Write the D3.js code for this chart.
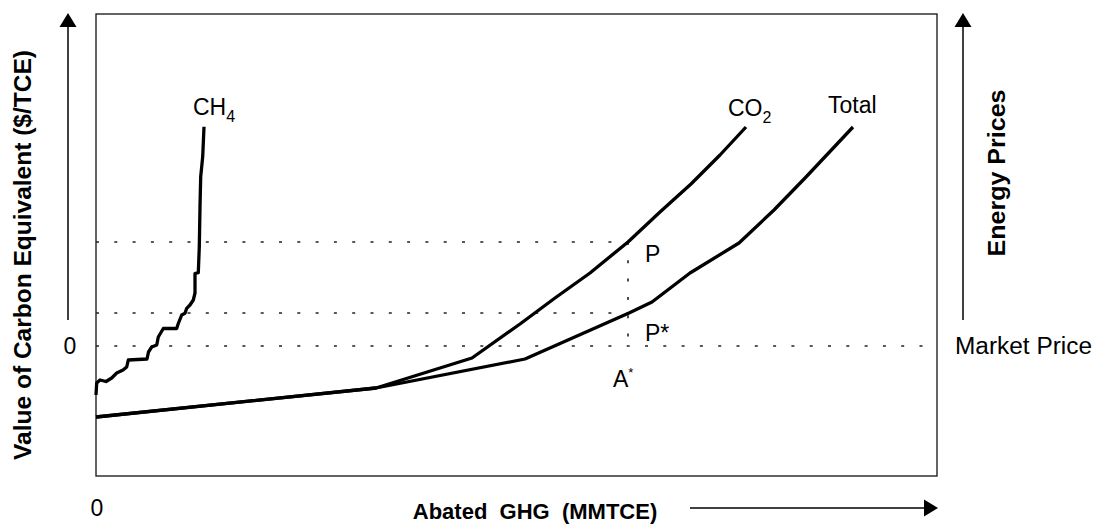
<!DOCTYPE html>
<html>
<head>
<meta charset="utf-8">
<script src="https://cdn.jsdelivr.net/npm/d3@7"></script>
<style>
  html, body { margin: 0; padding: 0; background: #fff; }
  svg { display: block; font-family: "Liberation Sans", Arial, sans-serif; }
</style>
</head>
<body>
<svg id="chart" width="1097" height="525"></svg>
<script>
// ---- data (abstract units) ----
const ch4X = [0, 0.07, 0.4, 1.0, 1.57, 2.07, 2.7, 3.07, 3.23, 5.1, 5.25, 5.57, 6.07, 6.23, 6.73, 8.07, 8.23, 8.57, 8.9, 9.07, 9.4, 9.73, 9.9, 9.9, 10.23, 10.33, 10.4, 10.47, 10.67, 10.8];
const ch4Y = [-4.9, -3.7, -3.4, -3.55, -3.2, -2.7, -2.4, -2.1, -1.4, -1.3, -0.6, -0.1, 0.1, 0.9, 1.75, 1.75, 2.25, 3.1, 3.27, 3.77, 4.1, 4.6, 5.3, 7.25, 7.33, 9.93, 13.93, 16.93, 18.93, 21.93];
const co2X = [0, 28, 37.6, 42.4, 45.9, 49.4, 53.2, 56.4, 59.5, 62.4, 65];
const co2Y = [-7.1, -4.2, -1.2, 2.2, 4.8, 7.3, 10.4, 13.4, 16.2, 19.1, 21.9];
const totalX = [0, 28, 42.9, 53.3, 55.6, 59.4, 64.3, 67.8, 71, 75.7];
const totalY = [-7.1, -4.2, -1.3, 3.3, 4.4, 7.3, 10.3, 13.6, 16.9, 21.9];
const priceP = 10.4;      // P
const pricePStar = 3.3;   // P*
const marketPrice = 0;    // Market Price
const abatedAStar = 53.2; // A*
const xDomain = [0, 84.1];
const yDomain = [-13, 33.2];

// ---- layout ----
const box = { left: 96, right: 937, top: 14, bottom: 476 };
const svg = d3.select("#chart");
const x = d3.scaleLinear().domain(xDomain).range([box.left, box.right]);
const y = d3.scaleLinear().domain(yDomain).range([box.bottom, box.top]);

// frame
svg.append("rect")
  .attr("x", box.left).attr("y", box.top)
  .attr("width", box.right - box.left).attr("height", box.bottom - box.top)
  .attr("fill", "none").attr("stroke", "#111").attr("stroke-width", 1.3);

// dotted reference lines
const dash = "3,15.3";
function hdot(v, x1) {
  svg.append("line")
    .attr("x1", x(0)).attr("x2", x1)
    .attr("y1", y(v)).attr("y2", y(v))
    .attr("stroke", "#222").attr("stroke-width", 1.6)
    .attr("stroke-dasharray", dash);
}
hdot(priceP, x(abatedAStar));
hdot(pricePStar, x(abatedAStar));
hdot(marketPrice, box.right);
svg.append("line")
  .attr("x1", x(abatedAStar)).attr("x2", x(abatedAStar))
  .attr("y1", y(priceP)).attr("y2", y(marketPrice))
  .attr("stroke", "#222").attr("stroke-width", 1.6)
  .attr("stroke-dasharray", dash);

// curves
const line = d3.line().x(d => x(d[0])).y(d => y(d[1]));
function curve(xs, ys) {
  svg.append("path")
    .datum(xs.map((v, i) => [v, ys[i]]))
    .attr("d", line)
    .attr("fill", "none").attr("stroke", "#000")
    .attr("stroke-width", 3.3)
    .attr("stroke-linejoin", "round");
}
curve(totalX, totalY);
curve(co2X, co2Y);
curve(ch4X, ch4Y);

// arrows
function arrowUp(cx, yBottom, yTip) {
  svg.append("line").attr("x1", cx).attr("x2", cx)
    .attr("y1", yBottom).attr("y2", yTip + 12)
    .attr("stroke", "#000").attr("stroke-width", 1.5);
  svg.append("path")
    .attr("d", `M${cx},${yTip} L${cx - 8.5},${yTip + 14} L${cx + 8.5},${yTip + 14} Z`)
    .attr("fill", "#000");
}
arrowUp(68, 320, 13);
arrowUp(963, 320, 13);
// x arrow
svg.append("line").attr("x1", 690).attr("x2", 925)
  .attr("y1", 508).attr("y2", 508)
  .attr("stroke", "#000").attr("stroke-width", 1.5);
svg.append("path")
  .attr("d", "M938,508 L924,499.5 L924,516.5 Z")
  .attr("fill", "#000");

// text helpers
function txt(tx, ty, s, opts = {}) {
  return svg.append("text")
    .attr("x", tx).attr("y", ty)
    .attr("font-size", opts.size || 23)
    .attr("font-weight", opts.bold ? "bold" : "normal")
    .attr("text-anchor", opts.anchor || "start")
    .attr("fill", "#000")
    .text(s);
}

// axis titles
svg.append("text")
  .attr("transform", "translate(31,255) rotate(-90)")
  .attr("text-anchor", "middle")
  .attr("font-size", 24.5).attr("font-weight", "bold")
  .text("Value of Carbon Equivalent ($/TCE)");
svg.append("text")
  .attr("transform", "translate(1005,173) rotate(-90)")
  .attr("text-anchor", "middle")
  .attr("font-size", 23).attr("font-weight", "bold")
  .attr("textLength", 167).attr("lengthAdjust", "spacingAndGlyphs")
  .text("Energy Prices");
svg.append("text")
  .attr("x", 535).attr("y", 519)
  .attr("text-anchor", "middle")
  .attr("font-size", 22).attr("font-weight", "bold")
  .attr("xml:space", "preserve")
  .style("white-space", "pre")
  .text("Abated  GHG  (MMTCE)");

// zero labels
txt(70, 354, "0", { anchor: "middle" });
txt(97, 516, "0", { anchor: "middle" });
txt(955, 354, "Market Price", { size: 23 }).attr("textLength", 137).attr("lengthAdjust", "spacingAndGlyphs");

// curve labels
const ch4 = txt(193, 115, "CH");
ch4.append("tspan").attr("dy", 7).attr("font-size", 16).text("4");
const co2 = txt(728, 116, "CO");
co2.append("tspan").attr("dy", 7).attr("font-size", 16).text("2");
txt(828, 113, "Total");

// point labels
txt(645, 262, "P");
txt(645, 341, "P*");
const a = txt(613, 387, "A");
a.append("tspan").attr("dy", -10).attr("font-size", 13).text("*");
</script>
</body>
</html>
